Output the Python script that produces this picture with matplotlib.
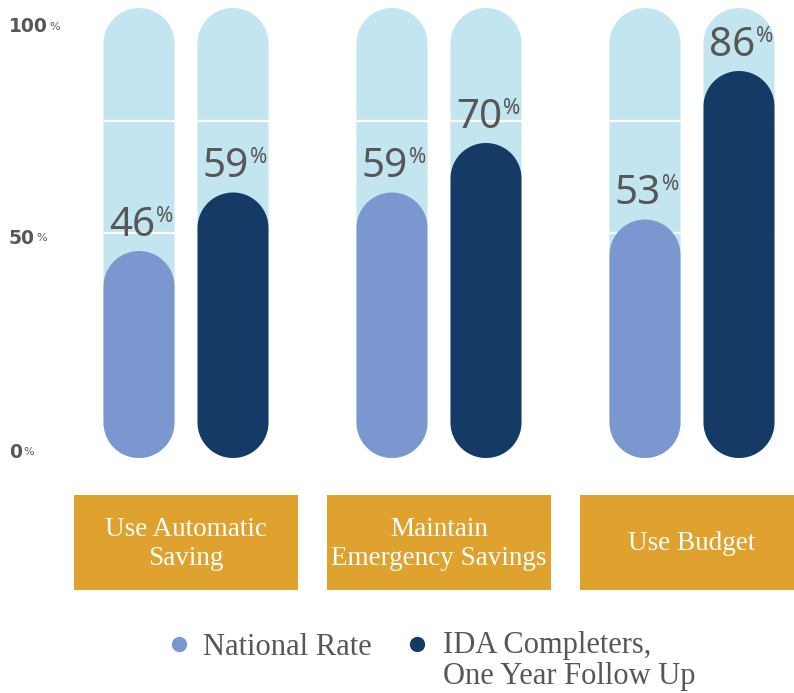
import matplotlib.pyplot as plt
import numpy as np
from matplotlib.lines import Line2D
from matplotlib.patches import Polygon, Rectangle
from matplotlib.transforms import blended_transform_factory

categories = ["Use Automatic\nSaving", "Maintain\nEmergency Savings", "Use Budget"]
national_rate = [46, 59, 53]
ida_completers = [59, 70, 86]
series_names = ["National Rate", "IDA Completers,\nOne Year Follow Up"]
y_ticks = [0, 50, 100]
band_lines = [50, 75]

LIGHT = "#c3e5ef"
NATIONAL = "#7a97cf"
IDA = "#163a66"
GOLD = "#e0a22e"
GREY = "#575757"

W, H = 794, 693
GROUP_PX = 253  # pixels between group centres

fig = plt.figure(figsize=(W / 100, H / 100), dpi=100)
ax = fig.add_axes([0, (H - 458) / H, 1, 450 / H])
ax.set_xlim(-186 / GROUP_PX, (W - 186) / GROUP_PX)
ax.set_ylim(0, 100)
ax.axis("off")

bar_w = 71 / GROUP_PX
offset = 47 / GROUP_PX

p0 = ax.transData.transform((0, 0))
p1 = ax.transData.transform((1, 1))
rx = bar_w / 2
ry = rx * (p1[0] - p0[0]) / (p1[1] - p0[1])


def pill(xc, top, color, z):
    t_bot = np.linspace(np.pi, 2 * np.pi, 60)
    t_top = np.linspace(0, np.pi, 60)
    xs = np.concatenate([xc + rx * np.cos(t_bot), xc + rx * np.cos(t_top)])
    ys = np.concatenate([ry + ry * np.sin(t_bot), top - ry + ry * np.sin(t_top)])
    ax.add_patch(Polygon(np.column_stack([xs, ys]), closed=True, facecolor=color,
                         edgecolor="none", zorder=z))


x = np.arange(len(categories))
for xc_group in x:
    for xc in (xc_group - offset, xc_group + offset):
        pill(xc, 100, LIGHT, 1)
        ax.hlines(band_lines, xc - rx, xc + rx, colors="white", lw=1.6, zorder=2)

for xs_, vals, color in ((x - offset, national_rate, NATIONAL), (x + offset, ida_completers, IDA)):
    for xc, v in zip(xs_, vals):
        pill(xc, v, color, 3)
        ax.annotate(f"{v}", xy=(xc, v), xytext=(11.5, 11), textcoords="offset points",
                    ha="right", va="baseline", fontsize=29, family="Noto Sans",
                    weight="semibold", color=GREY, zorder=4)
        ax.annotate("%", xy=(xc, v), xytext=(12.5, 21), textcoords="offset points",
                    ha="left", va="baseline", fontsize=15, family="Noto Sans",
                    color=GREY, zorder=4)

# y tick labels, nudged to sit where the original places them
tick_nudge_pt = {0: 4.3, 50: -3.6, 100: -13.5}
tick_trans = blended_transform_factory(ax.transAxes, ax.transData)
for t in y_ticks:
    txt = ax.annotate(f"{t}", xy=(9 / W, t), xycoords=tick_trans,
                      xytext=(0, tick_nudge_pt[t]), textcoords="offset points",
                      ha="left", va="center", fontsize=13.5, weight="bold",
                      family="DejaVu Sans", color=GREY)
    ax.annotate("%", xy=(1, 0), xycoords=txt, xytext=(0.8, 3), textcoords="offset points",
                ha="left", va="bottom", fontsize=8, family="DejaVu Sans", color=GREY)

# category boxes
box_trans = blended_transform_factory(ax.transData, fig.transFigure)
box_w = 224 / GROUP_PX
for xc, cat in zip(x, categories):
    ax.add_patch(Rectangle((xc - box_w / 2, (H - 590) / H), box_w, 95 / H,
                           transform=box_trans, facecolor=GOLD, edgecolor="none",
                           clip_on=False))
    ax.text(xc, (H - 544) / H, cat, transform=box_trans, ha="center", va="center",
            color="white", fontsize=19.5, family="Liberation Serif", linespacing=1.2)

# legend
fig.add_artist(Line2D([179 / W], [(H - 643.5) / H], marker="o", ms=10, color=NATIONAL,
                      linestyle="none", transform=fig.transFigure))
fig.text(203 / W, (H - 655) / H, series_names[0], ha="left", va="baseline",
         fontsize=22, family="Liberation Serif", color=GREY)
fig.add_artist(Line2D([417 / W], [(H - 644) / H], marker="o", ms=10, color=IDA,
                      linestyle="none", transform=fig.transFigure))
fig.text(443 / W, (H - 631) / H, series_names[1], ha="left", va="top",
         fontsize=22, family="Liberation Serif", color=GREY, linespacing=1.08)

fig.savefig("out.png", dpi=100)
